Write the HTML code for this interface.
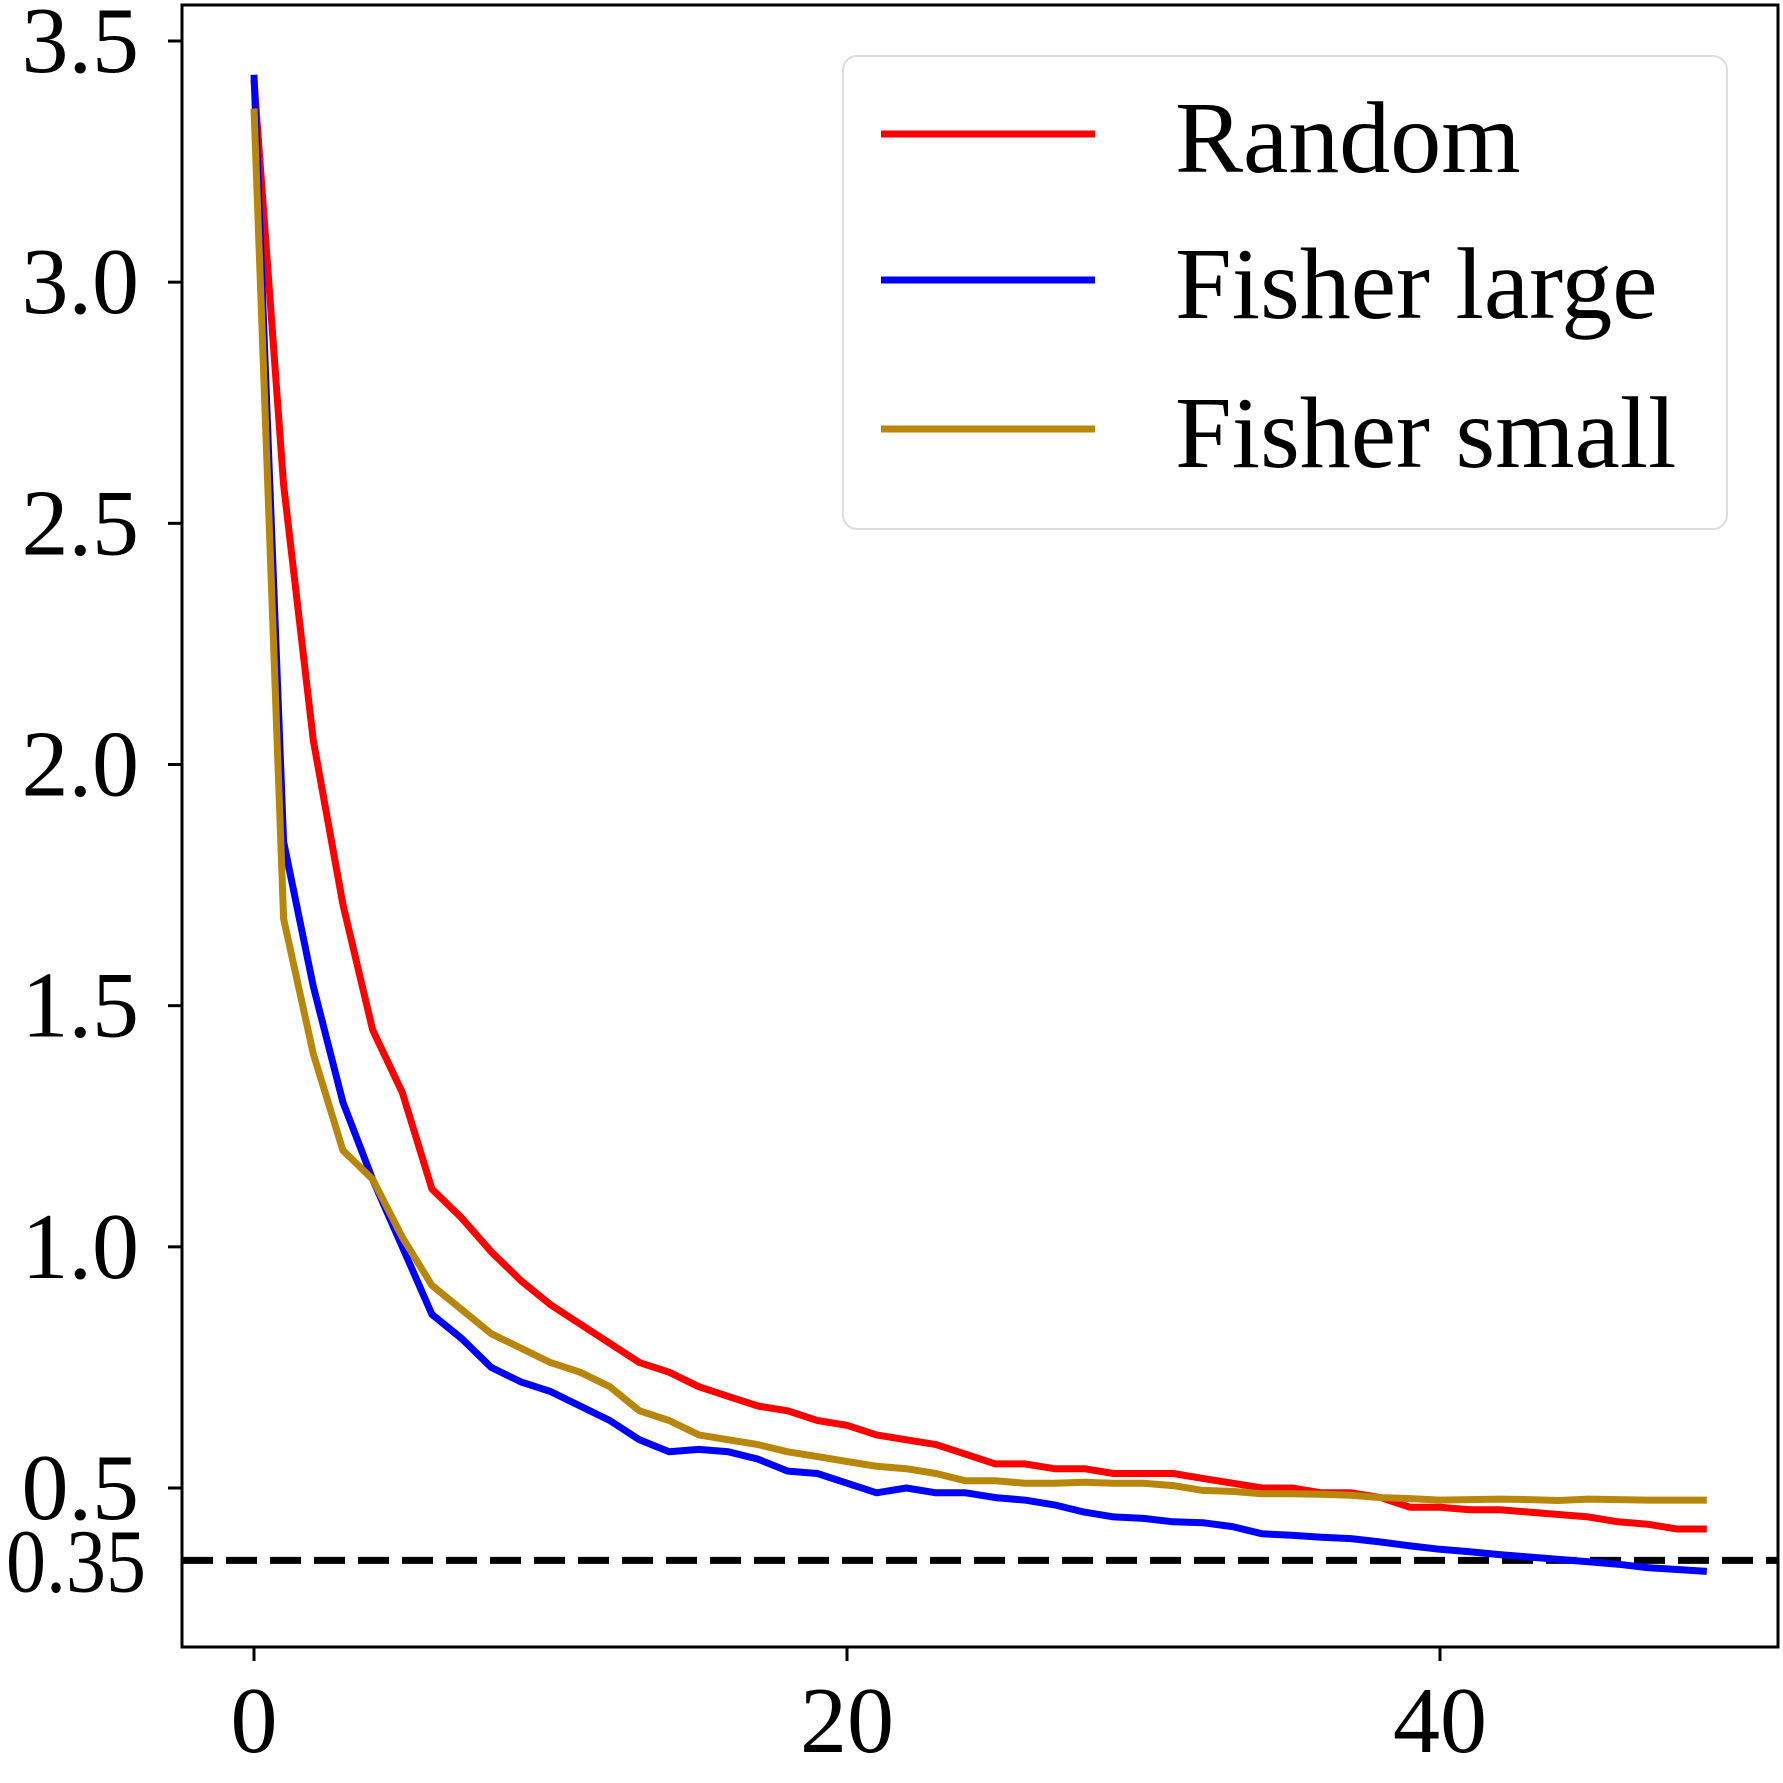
<!DOCTYPE html>
<html><head><meta charset="utf-8"><style>html,body{margin:0;padding:0;background:#fff}svg{display:block}text{font-family:"Liberation Serif",serif;fill:#000}</style></head>
<body>
<svg id="chart" width="1783" height="1783" viewBox="0 0 1783 1783" xmlns="http://www.w3.org/2000/svg">
<g id="plot"></g>
</svg>
<script>
const epochs = Array.from({length:50},(_,i)=>i);
const randomVals = [3.42,2.58,2.05,1.71,1.45,1.32,1.12,1.06,0.99,0.93,0.88,0.84,0.80,0.76,0.74,0.71,0.69,0.67,0.66,0.64,0.63,0.61,0.60,0.59,0.57,0.55,0.55,0.54,0.54,0.53,0.53,0.53,0.52,0.51,0.50,0.50,0.49,0.49,0.48,0.46,0.46,0.455,0.455,0.45,0.445,0.44,0.43,0.425,0.415,0.415];
const fisherLargeVals = [3.43,1.84,1.54,1.30,1.14,1.00,0.86,0.81,0.75,0.72,0.70,0.67,0.64,0.60,0.575,0.58,0.575,0.56,0.535,0.53,0.51,0.49,0.50,0.49,0.49,0.48,0.475,0.465,0.45,0.44,0.437,0.43,0.428,0.42,0.405,0.402,0.398,0.395,0.388,0.38,0.373,0.368,0.362,0.357,0.352,0.347,0.342,0.335,0.331,0.327];
const fisherSmallVals = [3.36,1.68,1.40,1.20,1.14,1.02,0.92,0.87,0.82,0.79,0.76,0.74,0.71,0.66,0.64,0.61,0.60,0.59,0.575,0.565,0.555,0.545,0.54,0.53,0.515,0.515,0.51,0.51,0.512,0.51,0.51,0.505,0.495,0.493,0.488,0.488,0.487,0.485,0.48,0.478,0.475,0.476,0.477,0.476,0.474,0.477,0.476,0.475,0.475,0.475];
const thresholdVal = 0.35;
const yTicks = [0.5,1.0,1.5,2.0,2.5,3.0,3.5];
const yTickLabels = ["0.5","1.0","1.5","2.0","2.5","3.0","3.5"];
const xTicks = [0,20,40];
const xTickLabels = ["0","20","40"];
const seriesNames = ["Random","Fisher large","Fisher small"];

const L=182,R=1778,T=5,B=1647;
const xs = v => 254 + v*(1440-254)/40;
const ys = v => 1488 - (v-0.5)*(1488-41)/3.0;
const NS="http://www.w3.org/2000/svg";
const g=document.getElementById('plot');
function mk(tag,attrs,parent){const e=document.createElementNS(NS,tag);for(const k in attrs)e.setAttribute(k,attrs[k]);(parent||g).appendChild(e);return e;}

const th=mk('line',{x1:L,x2:R,y1:ys(thresholdVal),y2:ys(thresholdVal),stroke:'#000','stroke-width':7,'stroke-dasharray':'31 13'});



const colors=['#ff0000','#0000ff','#b8860b'];
const allVals=[randomVals,fisherLargeVals,fisherSmallVals];
const names=['random-line','fisher-large-line','fisher-small-line'];
allVals.forEach((vals,si)=>{
  const d=vals.map((v,i)=>(i?'L':'M')+xs(epochs[i]).toFixed(1)+' '+ys(v).toFixed(1)).join(' ');
  const p=mk('path',{d:d,fill:'none',stroke:colors[si],'stroke-width':7,'stroke-linejoin':'round'});
  
  
});

const fr=mk('rect',{x:L,y:T,width:R-L,height:B-T,fill:'none',stroke:'#000','stroke-width':3});



yTicks.forEach((v,i)=>{
  mk('line',{x1:L-14,x2:L,y1:ys(v),y2:ys(v),stroke:'#000','stroke-width':3});
  const t=mk('text',{x:139,y:ys(v)+31,'text-anchor':'end','font-size':94});
  t.textContent=yTickLabels[i];
  
  
});
const t35=mk('text',{x:146,y:ys(thresholdVal)+31,'text-anchor':'end','font-size':90,'textLength':140,'lengthAdjust':'spacingAndGlyphs'});
t35.textContent='0.35';



xTicks.forEach((v,i)=>{
  mk('line',{x1:xs(v),x2:xs(v),y1:B,y2:B+14,stroke:'#000','stroke-width':3});
  const t=mk('text',{x:xs(v),y:1752,'text-anchor':'middle','font-size':94});
  t.textContent=xTickLabels[i];
  
  
});

const lg=mk('g',{});


mk('rect',{x:843,y:56,width:884,height:473,rx:14,fill:'#fff','fill-opacity':0.8,stroke:'#dddddd','stroke-width':2},lg);
const ly=[134,280,429];
seriesNames.forEach((n,i)=>{
  const e=mk('g',{},lg);
  
  
  mk('line',{x1:881,x2:1095,y1:ly[i],y2:ly[i],stroke:colors[i],'stroke-width':7},e);
  const t=mk('text',{x:1175,y:ly[i]+38,'font-size':102},e);
  t.textContent=n;
});
</script>
</body></html>
